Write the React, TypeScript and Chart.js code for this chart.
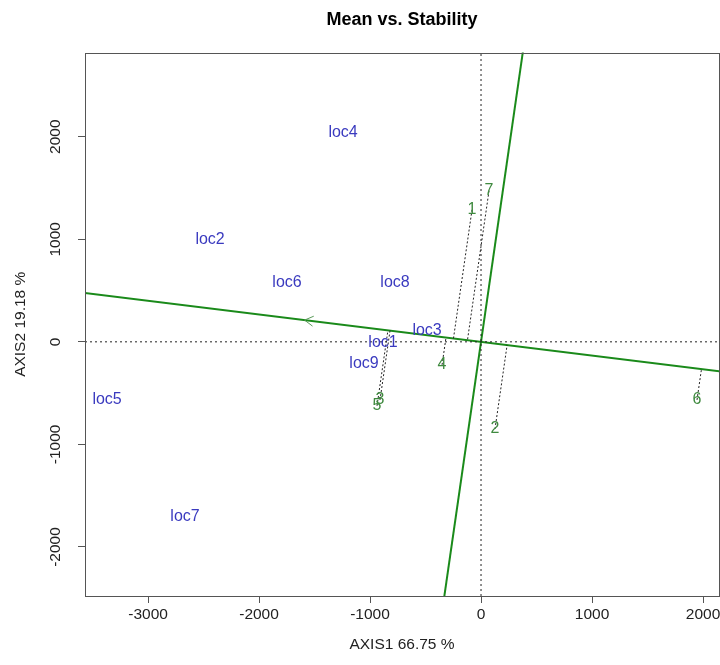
import React, { useEffect, useRef } from 'react';
import { Chart, registerables } from 'chart.js';

Chart.register(...registerables);

// ---- data ----
const envNames = ['loc1', 'loc2', 'loc3', 'loc4', 'loc5', 'loc6', 'loc7', 'loc8', 'loc9'];
const envX = [-883, -2441, -486, -1243, -3369, -1748, -2667, -775, -1054];
const envY = [-10, 995, 107, 2039, -566, 576, -1707, 576, -215];

const genNames = ['1', '2', '3', '4', '5', '6', '7'];
const genX = [-81, 126, -910, -351, -937, 1946, 72];
const genY = [1288, -849, -566, -224, -624, -566, 1473];

// average-environment coordinate (arrow head on the ATC abscissa)
const meanEnv = [-1590, 212];

const xTicks = [-3000, -2000, -1000, 0, 1000, 2000];
const yTicks = [-2000, -1000, 0, 1000, 2000];
const xRange = [-3568, 2144];
const yRange = [-2478, 2820];

const TITLE = 'Mean vs. Stability';
const X_TITLE = 'AXIS1 66.75 %';
const Y_TITLE = 'AXIS2 19.18 %';

const FONT = "'Liberation Sans', Arial, Helvetica, sans-serif";
const GREEN = '#1a8a1a';
const ENV_COLOR = '#3a3abf';
const GEN_COLOR = '#3f8a3f';
const AXIS_COLOR = '#555555';

function project(x: number, y: number) {
  const [mx, my] = meanEnv;
  const t = (x * mx + y * my) / (mx * mx + my * my);
  return { x: t * mx, y: t * my };
}

const labelPlugin = {
  id: 'biplotLabels',
  afterDatasetsDraw(chart: any) {
    const { ctx, chartArea } = chart;
    const xs = chart.scales.x;
    const ys = chart.scales.y;
    ctx.save();
    // arrow head at the average environment
    const tipX = xs.getPixelForValue(meanEnv[0]);
    const tipY = ys.getPixelForValue(meanEnv[1]);
    const ox = xs.getPixelForValue(0);
    const oy = ys.getPixelForValue(0);
    const ang = Math.atan2(tipY - oy, tipX - ox);
    const L = 10;
    ctx.strokeStyle = '#5a9a5a';
    ctx.lineWidth = 1;
    ctx.beginPath();
    ctx.moveTo(tipX - L * Math.cos(ang - Math.PI / 6), tipY - L * Math.sin(ang - Math.PI / 6));
    ctx.lineTo(tipX, tipY);
    ctx.lineTo(tipX - L * Math.cos(ang + Math.PI / 6), tipY - L * Math.sin(ang + Math.PI / 6));
    ctx.stroke();

    ctx.textAlign = 'center';
    ctx.textBaseline = 'middle';
    const drawSet = (idx: number, names: string[], color: string, size: number) => {
      const meta = chart.getDatasetMeta(idx);
      ctx.fillStyle = color;
      ctx.font = `${size}px ${FONT}`;
      meta.data.forEach((el: any, i: number) => {
        ctx.fillText(names[i], el.x, el.y);
      });
    };
    drawSet(0, envNames, ENV_COLOR, 16);
    drawSet(1, genNames, GEN_COLOR, 16);

    // plot box
    ctx.strokeStyle = AXIS_COLOR;
    ctx.lineWidth = 1;
    ctx.strokeRect(
      Math.round(chartArea.left) + 0.5,
      Math.round(chartArea.top) + 0.5,
      Math.round(chartArea.right - chartArea.left),
      Math.round(chartArea.bottom - chartArea.top)
    );

    // rotated y tick labels (R style)
    ctx.fillStyle = '#222';
    ctx.font = `15.5px ${FONT}`;
    ys.ticks.forEach((t: any) => {
      const py = ys.getPixelForValue(t.value);
      ctx.save();
      ctx.translate(56, py);
      ctx.rotate(-Math.PI / 2);
      ctx.textAlign = 'center';
      ctx.textBaseline = 'middle';
      ctx.fillText(String(t.value), 0, 0);
      ctx.restore();
    });
    ctx.restore();
  },
};

export default function App() {
  const ref = useRef<HTMLCanvasElement | null>(null);

  useEffect(() => {
    if (!ref.current) return;
    const [mx, my] = meanEnv;
    const k = 6;
    const abscissa = [
      { x: -k * mx, y: -k * my },
      { x: k * mx, y: k * my },
    ];
    const ordinate = [
      { x: -k * my * 0.5, y: k * mx * 0.5 },
      { x: k * my * 0.5, y: -k * mx * 0.5 },
    ];
    const dotted = {
      borderColor: '#222',
      borderWidth: 1,
      borderDash: [2, 2],
      pointRadius: 0,
      showLine: true,
      fill: false,
    };
    const projLines = genX.map((gx, i) => {
      const p = project(gx, genY[i]);
      return {
        ...dotted,
        data: [
          { x: gx, y: genY[i] },
          { x: p.x, y: p.y },
        ],
      };
    });

    const chart = new Chart(ref.current, {
      type: 'scatter',
      data: {
        datasets: [
          {
            label: 'env',
            data: envX.map((x, i) => ({ x, y: envY[i] })),
            pointRadius: 0,
            showLine: false,
          },
          {
            label: 'gen',
            data: genX.map((x, i) => ({ x, y: genY[i] })),
            pointRadius: 0,
            showLine: false,
          },
          {
            ...dotted,
            borderDash: [2, 3],
            data: [
              { x: xRange[0], y: 0 },
              { x: xRange[1], y: 0 },
            ],
          },
          {
            ...dotted,
            borderDash: [2, 3],
            data: [
              { x: 0, y: yRange[0] },
              { x: 0, y: yRange[1] },
            ],
          },
          ...projLines,
          {
            data: abscissa,
            borderColor: GREEN,
            borderWidth: 2,
            pointRadius: 0,
            showLine: true,
          },
          {
            data: ordinate,
            borderColor: GREEN,
            borderWidth: 2,
            pointRadius: 0,
            showLine: true,
          },
        ] as any,
      },
      options: {
        responsive: false,
        animation: false,
        devicePixelRatio: 1,
        layout: { padding: { left: 0, right: 1, top: 0, bottom: 0 } },
        plugins: {
          legend: { display: false },
          tooltip: { enabled: false },
          title: {
            display: true,
            text: TITLE,
            fullSize: false,
            color: '#000',
            font: { family: FONT, size: 18, weight: 'bold' },
            padding: { top: 9, bottom: 22 },
          },
        },
        scales: {
          x: {
            type: 'linear',
            min: xRange[0],
            max: xRange[1],
            afterBuildTicks: (s: any) => {
              s.ticks = xTicks.map((v) => ({ value: v }));
            },
            afterFit: (s: any) => {
              s.height = 69;
              s.paddingLeft = 0;
              s.paddingRight = 0;
            },
            grid: {
              drawOnChartArea: false,
              drawTicks: true,
              tickLength: 7,
              tickColor: AXIS_COLOR,
              color: AXIS_COLOR,
            },
            border: { display: false },
            ticks: {
              color: '#222',
              font: { family: FONT, size: 15.5 },
              padding: 2,
              maxRotation: 0,
              minRotation: 0,
              autoSkip: false,
              callback: (v: any) => String(v),
            },
            title: {
              display: true,
              text: X_TITLE,
              color: '#222',
              font: { family: FONT, size: 15.5 },
              padding: { top: 0, bottom: 11 },
            },
          },
          y: {
            type: 'linear',
            min: yRange[0],
            max: yRange[1],
            afterBuildTicks: (s: any) => {
              s.ticks = yTicks.map((v) => ({ value: v }));
            },
            afterFit: (s: any) => {
              s.width = 85;
              s.paddingTop = 0;
              s.paddingBottom = 0;
            },
            grid: {
              drawOnChartArea: false,
              drawTicks: true,
              tickLength: 7,
              tickColor: AXIS_COLOR,
              color: AXIS_COLOR,
            },
            border: { display: false },
            ticks: { display: false },
            title: {
              display: true,
              text: Y_TITLE,
              color: '#222',
              font: { family: FONT, size: 15.5 },
              padding: { top: 11, bottom: 0 },
            },
          },
        },
      } as any,
      plugins: [labelPlugin],
    });
    return () => chart.destroy();
  }, []);

  return (
    <div style={{ position: 'absolute', left: 0, top: 0, width: 720, height: 665, background: '#fff' }}>
      <canvas ref={ref} width={720} height={665} style={{ display: 'block' }} />
    </div>
  );
}
